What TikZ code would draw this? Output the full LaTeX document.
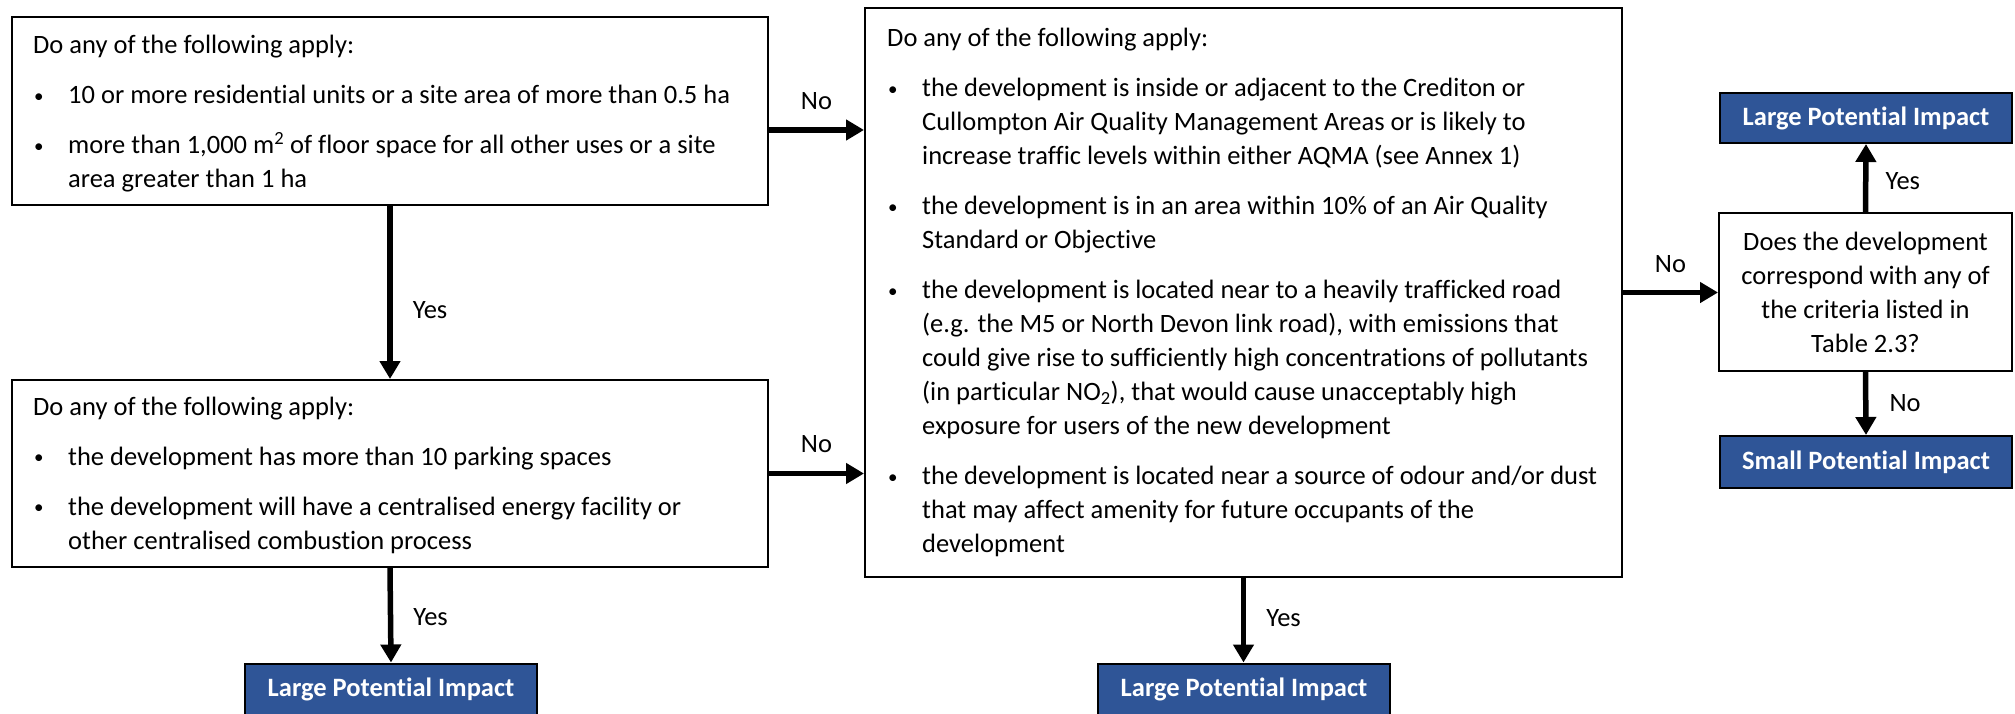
\documentclass[tikz,border=0pt]{standalone}
\usepackage{fontspec}
\setmainfont{Carlito}[Ligatures=NoCommon]
\usetikzlibrary{arrows.meta}
\definecolor{impactblue}{RGB}{47,85,151}
\newcommand{\bl}{\makebox[0pt][l]{\hspace{1pt}\raisebox{1.5pt}{\fontsize{19}{19}\selectfont\textbullet}}\hspace{35pt}}
\newcommand{\ind}{\hspace*{35pt}}
\begin{document}
\begin{tikzpicture}[x=1pt,y=-1pt,
  qbox/.style={draw=black, line width=2pt, fill=white, inner sep=0pt},
  body/.style={font=\fontsize{26.5}{34}\selectfont, inner sep=0pt, anchor=base west},
  impact/.style={draw=black, line width=2pt, fill=impactblue, text=white,
    font=\fontsize{26.5}{32}\selectfont\bfseries, minimum width=292pt,
    minimum height=51pt, inner sep=0pt},
  arr/.style={line width=5.5pt, -{Triangle[length=18pt,width=20pt]}},
  lbl/.style={font=\fontsize{26.5}{32}\selectfont, inner sep=0pt}]
\useasboundingbox (0,0) rectangle (2015,714);

% boxes
\node[qbox, minimum width=756pt, minimum height=188pt] (b1) at (390,111) {};
\node[qbox, minimum width=756pt, minimum height=187pt] (b2) at (390,473.5) {};
\node[qbox, minimum width=757pt, minimum height=569pt] (mid) at (1243.5,292.5) {};
\node[qbox, minimum width=293pt, minimum height=158pt, align=center,
  font=\fontsize{26.5}{34}\selectfont] (dec) at (1865.5,292)
  {Does the development\\correspond with any of\\the criteria listed in\\Table 2.3?};

\node[impact] (lpi1) at (391,689) {Large Potential Impact};
\node[impact] (lpi2) at (1244,689) {Large Potential Impact};
\node[impact, minimum height=50pt] (lpi3) at (1866,118) {Large Potential Impact};
\node[impact, minimum height=52pt] (spi) at (1866,462) {Small Potential Impact};

% texts
\node[body] (t1) at (33,54) {\parbox[t]{740pt}{Do any of the following apply:\\[16pt]
\bl 10 or more residential units or a site area of more than 0.5 ha\\[16pt]
\bl more than 1,000 m\textsuperscript{2} of floor space for all other uses or a site\\
\ind area greater than 1 ha}};

\node[body] (t2) at (33,415) {\parbox[t]{740pt}{Do any of the following apply:\\[16pt]
\bl the development has more than 10 parking spaces\\[16pt]
\bl the development will have a centralised energy facility or\\
\ind other centralised combustion process}};

\node[body] (tm) at (887,47) {\parbox[t]{740pt}{Do any of the following apply:\\[16pt]
\bl the development is inside or adjacent to the Crediton or\\
\ind Cullompton Air Quality Management Areas or is likely to\\
\ind increase traffic levels within either AQMA (see Annex 1)\\[16pt]
\bl the development is in an area within 10\% of an Air Quality\\
\ind Standard or Objective\\[16pt]
\bl the development is located near to a heavily trafficked road\\
\ind (e.g. the M5 or North Devon link road), with emissions that\\
\ind could give rise to sufficiently high concentrations of pollutants\\
\ind (in particular NO\textsubscript{2}), that would cause unacceptably high\\
\ind exposure for users of the new development\\[16pt]
\bl the development is located near a source of odour and/or dust\\
\ind that may affect amenity for future occupants of the\\
\ind development}};

% connectors
\draw[arr] (b1.south) -- node[lbl, pos=0.6, right=20pt] {Yes} (b2.north);
\draw[arr] (b2.south) -- node[lbl, pos=0.52, right=20pt] {Yes} (lpi1.north);
\draw[arr] ([yshift=-19pt]b1.east) -- node[lbl, above=18pt] {No} ([yshift=-19pt]b1.east -| mid.west);
\draw[arr] (b2.east) -- node[lbl, above=18pt] {No} (b2.east -| mid.west);
\draw[arr] (mid.south) -- node[lbl, pos=0.47, right=20pt] {Yes} (mid.south |- lpi2.north);
\draw[arr] (mid.east) -- node[lbl, above=17pt] {No} (mid.east -| dec.west);
\draw[arr] (dec.north) -- node[lbl, pos=0.45, right=17pt] {Yes} (lpi3.south);
\draw[arr] (dec.south) -- node[lbl, pos=0.5, right=21pt] {No} (spi.north);
\end{tikzpicture}
\end{document}
